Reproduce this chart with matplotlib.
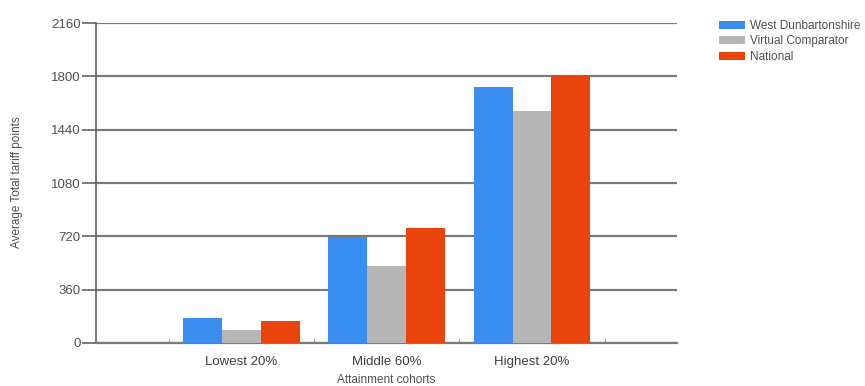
import matplotlib
matplotlib.use("Agg")
import matplotlib.pyplot as plt
import numpy as np

categories = ["Lowest 20%", "Middle 60%", "Highest 20%"]
series_names = ["West Dunbartonshire", "Virtual Comparator", "National"]
west_dunbartonshire = [169, 718, 1728]
virtual_comparator = [88, 520, 1566]
national = [148, 776, 1810]
y_ticks = [0, 360, 720, 1080, 1440, 1800, 2160]

colors = ["#3a8ef0", "#b6b6b6", "#e8440c"]
series = [west_dunbartonshire, virtual_comparator, national]

plt.rcParams["font.family"] = ["Liberation Sans", "DejaVu Sans"]

fig = plt.figure(figsize=(8.65, 3.86), dpi=100)
ax = fig.add_axes([0.111, 0.1114, 0.672, 0.829])

x = np.arange(len(categories))
width = 0.267
for i, (vals, name, col) in enumerate(zip(series, series_names, colors)):
    ax.bar(x + (i - 1) * width, vals, width, color=col, label=name, zorder=3)

ax.set_ylim(0, 2160)
ax.set_xlim(-1, 3)
ax.set_yticks(y_ticks)
ax.set_yticklabels([str(v) for v in y_ticks], fontsize=9.5, color="#505050")
ax.yaxis.grid(True, color="#7a7a7a", linewidth=1.6, zorder=0)
ax.set_axisbelow(True)

ax.set_xticks(x)
ax.set_xticklabels(categories, fontsize=9.5, color="#404040")
ax.tick_params(axis="x", length=0, pad=9.5)
ax.set_xticks([-0.5, 0.5, 1.5, 2.5], minor=True)
ax.tick_params(axis="x", which="minor", length=3, color="#909090", direction="in")
ax.tick_params(axis="y", length=10, width=1.4, color="#7a7a7a", pad=1)

for side in ["top", "right"]:
    ax.spines[side].set_visible(False)
ax.spines["left"].set_color("#606060")
ax.spines["left"].set_linewidth(1.2)
ax.spines["bottom"].set_color("#7a7a7a")
ax.spines["bottom"].set_linewidth(1.6)

ax.set_ylabel("Average Total tariff points", fontsize=8.5, color="#505050")
ax.yaxis.set_label_coords(-0.125, 0.503)
ax.set_xlabel("Attainment cohorts", fontsize=8.5, color="#505050", labelpad=4)

fig.legend(loc="upper left", bbox_to_anchor=(0.826, 0.960), frameon=False,
           fontsize=8.5, handlelength=2.2, handleheight=0.65, handletextpad=0.4,
           labelspacing=0.28, borderaxespad=0, labelcolor="#505050")

fig.savefig("out.png", dpi=100)
